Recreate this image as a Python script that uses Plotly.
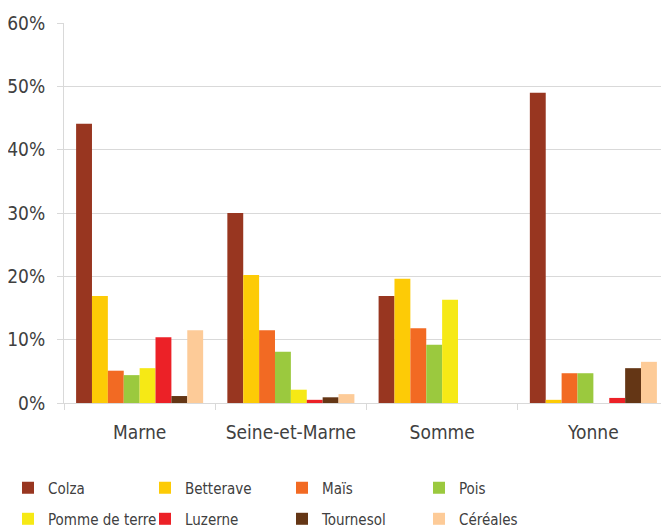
import plotly.graph_objects as go

regions = ["Marne", "Seine-et-Marne", "Somme", "Yonne"]

colza = [44.1, 30.0, 16.9, 49.0]
betterave = [16.9, 20.2, 19.6, 0.5]
mais = [5.1, 11.5, 11.8, 4.7]
pois = [4.4, 8.1, 9.2, 4.7]
pomme_de_terre = [5.5, 2.1, 16.3, 0]
luzerne = [10.4, 0.5, 0, 0.8]
tournesol = [1.1, 0.9, 0, 5.5]
cereales = [11.5, 1.4, 0, 6.5]

series = [
    ("Colza", colza, "#983620"),
    ("Betterave", betterave, "#FDCB06"),
    ("Maïs", mais, "#F26A23"),
    ("Pois", pois, "#9BC93E"),
    ("Pomme de terre", pomme_de_terre, "#F6E915"),
    ("Luzerne", luzerne, "#EC2127"),
    ("Tournesol", tournesol, "#643615"),
    ("Céréales", cereales, "#FDCB98"),
]

font_family = "DejaVu Sans Condensed, Roboto, sans-serif"
text_color = "#404040"

fig = go.Figure()
for i, (name, vals, col) in enumerate(series):
    fig.add_trace(go.Bar(
        x=regions, y=[v / 100 for v in vals], name=name,
        marker=dict(color=col, line=dict(width=0)),
        legend="legend" if i < 4 else "legend2",
    ))

# the page has an 8px body margin, so the figure is a bit smaller
legend_style = dict(
    orientation="h", xref="container", x=0, xanchor="left",
    yref="container", yanchor="middle",
    entrywidth=92, entrywidthmode="pixels",
    font=dict(size=15, color=text_color),
    traceorder="normal", bgcolor="rgba(0,0,0,0)",
)

fig.update_layout(
    width=661, height=522,
    margin=dict(l=56, r=0, t=15, b=127, autoexpand=False),
    barmode="group", bargap=0.16, bargroupgap=0,
    plot_bgcolor="white", paper_bgcolor="white",
    font=dict(family=font_family, size=19, color=text_color),
    showlegend=True,
    legend=dict(legend_style, y=0.0805),
    legend2=dict(legend_style, y=0.021),
)

fig.update_yaxes(
    range=[0, 0.6], dtick=0.1, tickformat=".0%",
    showgrid=True, gridcolor="#D9D9D9", gridwidth=1,
    showline=True, linecolor="#D9D9D9", linewidth=1,
    ticks="outside", ticklen=6, tickcolor="#D9D9D9",
    zeroline=False, automargin=False, ticklabelstandoff=8,
)
fig.update_xaxes(
    showline=True, linecolor="#D9D9D9", linewidth=1,
    ticks="outside", ticklen=6, tickcolor="#D9D9D9",
    tickson="boundaries", showgrid=False, automargin=False,
    ticklabelstandoff=12,
)

fig.write_html("out.html")
